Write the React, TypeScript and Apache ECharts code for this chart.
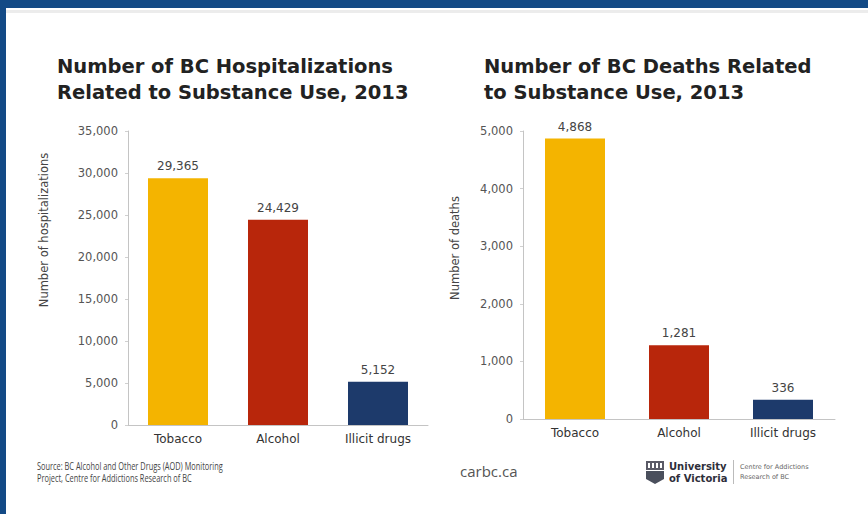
import React, { useEffect, useRef } from "react";
import * as echarts from "echarts";

const categories = ["Tobacco", "Alcohol", "Illicit drugs"];
const hospitalizations = [29365, 24429, 5152];
const deaths = [4868, 1281, 336];
const barColors = ["#F4B400", "#B8260B", "#1D3A6B"];
const hospAxis = { min: 0, max: 35000, interval: 5000 };
const deathAxis = { min: 0, max: 5000, interval: 1000 };

const FONT = "DejaVu Sans";
const fmt = (v: number) => v.toLocaleString("en-US");

export default function App() {
  const ref = useRef<HTMLDivElement>(null);
  useEffect(() => {
    if (!ref.current) return;
    const chart = echarts.init(ref.current, undefined, { renderer: "svg" });
    const xAxisBase = (gridIndex: number) => ({
      type: "category" as const,
      gridIndex,
      data: categories,
      axisLine: { lineStyle: { color: "#c4c4c4", width: 1 } },
      axisTick: { show: false },
      axisLabel: { color: "#333", fontSize: 12, fontFamily: FONT, margin: 8 },
    });
    const yAxisBase = (gridIndex: number, ax: any) => ({
      type: "value" as const,
      gridIndex,
      min: ax.min,
      max: ax.max,
      interval: ax.interval,
      splitLine: { show: false },
      axisLine: { show: true, lineStyle: { color: "#c4c4c4", width: 1 } },
      axisTick: { show: true, length: 3, lineStyle: { color: "#d0d0d0" } },
      axisLabel: {
        color: "#555",
        fontSize: 11.5,
        fontFamily: FONT,
        margin: 10,
        formatter: (v: number) => fmt(v),
      },
    });
    const seriesBase = (idx: number, data: number[]) => ({
      type: "bar" as const,
      xAxisIndex: idx,
      yAxisIndex: idx,
      barWidth: 60,
      data: data.map((v, i) => ({ value: v, itemStyle: { color: barColors[i] } })),
      label: {
        show: true,
        position: "top" as const,
        distance: 6,
        color: "#444",
        fontSize: 12,
        fontFamily: FONT,
        formatter: (p: any) => fmt(p.value),
      },
    });
    const titleStyle = {
      fontSize: 19.5,
      fontWeight: "bold" as const,
      fontFamily: FONT,
      color: "#222",
      lineHeight: 26,
    };
    chart.setOption({
      animation: false,
      backgroundColor: "#ffffff",
      title: [
        {
          text: "Number of BC Hospitalizations\nRelated to Substance Use, 2013",
          left: 57,
          top: 53,
          padding: 0,
          textStyle: titleStyle,
        },
        {
          text: "Number of BC Deaths Related\nto Substance Use, 2013",
          left: 484,
          top: 53,
          padding: 0,
          textStyle: titleStyle,
        },
      ],
      grid: [
        { left: 128, top: 131, width: 300, height: 294 },
        { left: 523, top: 131, width: 312, height: 288 },
      ],
      xAxis: [xAxisBase(0), xAxisBase(1)],
      yAxis: [yAxisBase(0, hospAxis), yAxisBase(1, deathAxis)],
      series: [seriesBase(0, hospitalizations), seriesBase(1, deaths)],
      graphic: [
        { type: "rect", shape: { x: 0, y: 0, width: 868, height: 8 }, style: { fill: "#134A86" } },
        { type: "rect", shape: { x: 0, y: 0, width: 6, height: 514 }, style: { fill: "#134A86" } },
        { type: "rect", shape: { x: 6, y: 10, width: 862, height: 3 }, style: { fill: "#ececec" } },
        {
          type: "text",
          x: 44,
          y: 230,
          rotation: Math.PI / 2,
          style: {
            text: "Number of hospitalizations",
            fill: "#444",
            font: `11.5px "${FONT}"`,
            align: "center",
            verticalAlign: "middle",
          },
        },
        {
          type: "text",
          x: 455,
          y: 248,
          rotation: Math.PI / 2,
          style: {
            text: "Number of deaths",
            fill: "#444",
            font: `11.5px "${FONT}"`,
            align: "center",
            verticalAlign: "middle",
          },
        },
        {
          type: "text",
          x: 37,
          y: 461,
          scaleX: 0.74,
          style: {
            text: "Source: BC Alcohol and Other Drugs (AOD) Monitoring\nProject, Centre for Addictions Research of BC",
            fill: "#444",
            font: `10px "Open Sans"`,
            lineHeight: 12,
          },
        },
        {
          type: "text",
          x: 460,
          y: 471,
          style: {
            text: "carbc.ca",
            fill: "#555",
            font: `15px "Open Sans"`,
            verticalAlign: "middle",
          },
        },
        // UVic logo shield
        { type: "rect", shape: { x: 646, y: 461, width: 18, height: 9 }, style: { fill: "#5a5a66" } },
        { type: "rect", shape: { x: 648, y: 463, width: 14, height: 5 }, style: { fill: "#ffffff" } },
        { type: "rect", shape: { x: 650, y: 463, width: 2, height: 5 }, style: { fill: "#5a5a66" } },
        { type: "rect", shape: { x: 654, y: 463, width: 2, height: 5 }, style: { fill: "#5a5a66" } },
        { type: "rect", shape: { x: 658, y: 463, width: 2, height: 5 }, style: { fill: "#5a5a66" } },
        {
          type: "polygon",
          shape: { points: [[646, 471], [664, 471], [664, 479], [655, 484], [646, 479]] },
          style: { fill: "#4a4f5c" },
        },
        {
          type: "text",
          x: 669,
          y: 460,
          style: {
            text: "University\nof Victoria",
            fill: "#2e2e3a",
            font: `bold 10px "${FONT}"`,
            lineHeight: 12,
          },
        },
        { type: "rect", shape: { x: 733, y: 460, width: 1, height: 24 }, style: { fill: "#bbbbbb" } },
        {
          type: "text",
          x: 740,
          y: 462,
          style: {
            text: "Centre for Addictions\nResearch of BC",
            fill: "#666",
            font: `6.5px "${FONT}"`,
            lineHeight: 10,
          },
        },
      ],
    });
    return () => chart.dispose();
  }, []);
  return (
    <div
      ref={ref}
      style={{ position: "fixed", left: 0, top: 0, width: 868, height: 514, background: "#fff" }}
    />
  );
}
